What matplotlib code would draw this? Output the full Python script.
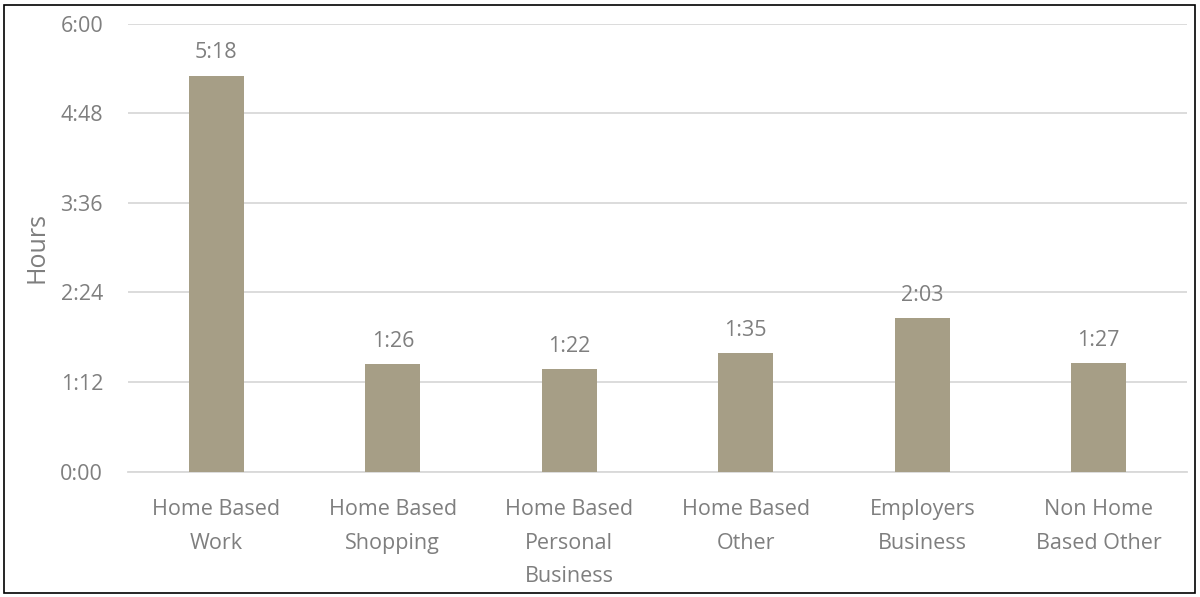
import matplotlib.pyplot as plt
from matplotlib.patches import Rectangle
from matplotlib.ticker import FixedLocator, FuncFormatter

plt.rcParams['font.family'] = ['Open Sans', 'DejaVu Sans']

categories = ['Home Based\nWork', 'Home Based\nShopping', 'Home Based\nPersonal\nBusiness',
              'Home Based\nOther', 'Employers\nBusiness', 'Non Home\nBased Other']
# durations in minutes
minutes = [318, 86, 82, 95, 123, 87]
tick_minutes = [0, 72, 144, 216, 288, 360]

bar_color = '#A69E86'
text_color = '#7F7F7F'
grid_color = '#D9D9D9'


def hhmm(m, pos=None):
    m = int(round(m))
    return '%d:%02d' % (m // 60, m % 60)


fig = plt.figure(figsize=(12, 5.97), dpi=100)
ax = fig.add_axes([128 / 1200, 1 - 471.5 / 597, (1187 - 128) / 1200, (471.5 - 23.5) / 597])

x = range(len(categories))
bars = ax.bar(x, minutes, width=0.31, color=bar_color, zorder=3)

for b, m in zip(bars, minutes):
    ax.annotate(hhmm(m), (b.get_x() + b.get_width() / 2, b.get_height()),
                xytext=(0, 9), textcoords='offset points', ha='center', va='bottom',
                fontsize=15.5, color=text_color)

ax.set_ylim(0, 360)
ax.set_xlim(-0.5, len(categories) - 0.5)
ax.yaxis.set_major_locator(FixedLocator(tick_minutes))
ax.yaxis.set_major_formatter(FuncFormatter(hhmm))
ax.set_xticks(list(x))
ax.set_xticklabels(categories, linespacing=1.78)

ax.grid(axis='y', color=grid_color, linewidth=1.3, zorder=0)
for s in ['top', 'right', 'left']:
    ax.spines[s].set_visible(False)
ax.spines['bottom'].set_color(grid_color)
ax.spines['bottom'].set_linewidth(1.3)
ax.tick_params(axis='both', length=0, labelsize=15.5, labelcolor=text_color)
ax.tick_params(axis='x', pad=20)
ax.tick_params(axis='y', pad=18)

ax.set_ylabel('Hours', fontsize=18, color=text_color, labelpad=8)

fig.patches.append(Rectangle((4 / 1200, 4 / 597), 1 - 9 / 1200, 1 - 9 / 597,
                             transform=fig.transFigure, fill=False,
                             edgecolor='black', linewidth=1.2))

fig.savefig('out.png', dpi=100)
